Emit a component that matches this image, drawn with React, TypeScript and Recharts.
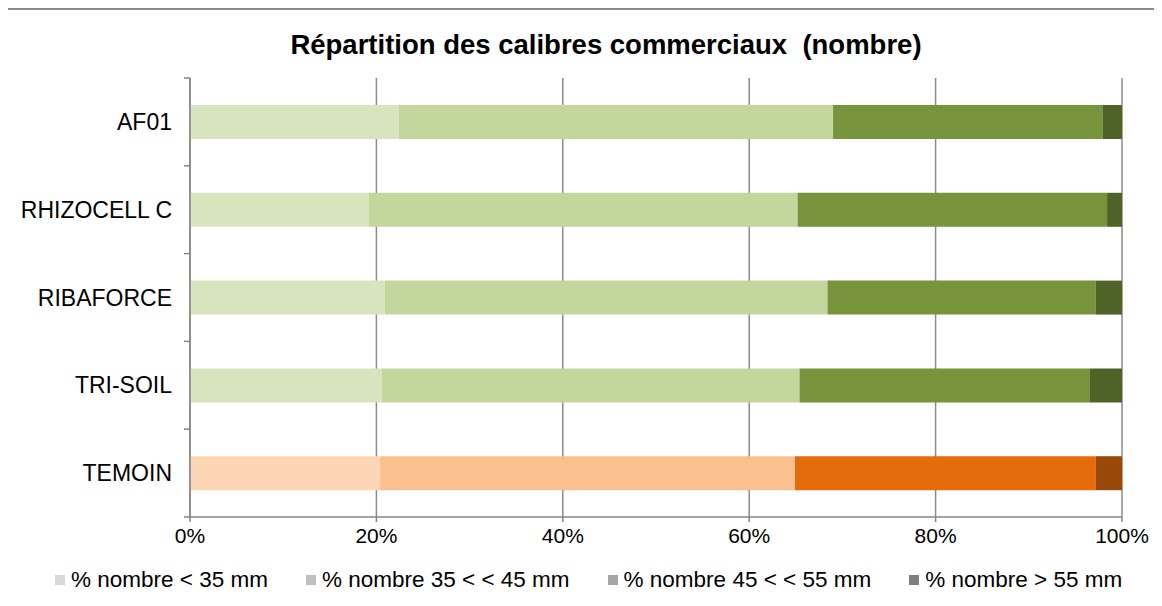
import React from 'react';
import { BarChart, Bar, XAxis, YAxis, CartesianGrid, Cell, Legend } from 'recharts';

const categories = ['AF01', 'RHIZOCELL C', 'RIBAFORCE', 'TRI-SOIL', 'TEMOIN'];
const lt35 = [22.4, 19.2, 20.9, 20.6, 20.4];
const from35to45 = [46.6, 46.0, 47.5, 44.8, 44.5];
const from45to55 = [28.9, 33.2, 28.8, 31.1, 32.3];
const gt55 = [2.1, 1.6, 2.8, 3.5, 2.8];
const seriesNames = ['% nombre < 35 mm', '% nombre 35 < < 45 mm', '% nombre 45 < < 55 mm', '% nombre > 55 mm'];
const seriesKeys = ['a', 'b', 'c', 'd'];
const xTicks = [0, 0.2, 0.4, 0.6, 0.8, 1];
const xTickLabels = ['0%', '20%', '40%', '60%', '80%', '100%'];
const controlCategory = 'TEMOIN';
const title = 'Répartition des calibres commerciaux  (nombre)';

const greenColors = ['#D7E4BD', '#C3D69B', '#77933C', '#4F6228'];
const orangeColors = ['#FCD5B5', '#FAC090', '#E46C0A', '#984807'];
const legendColors = ['#D9D9D9', '#BFBFBF', '#A6A6A6', '#7F7F7F'];

const FONT = '"Liberation Sans", Arial, sans-serif';
const AXIS = '#868686';

const data = categories.map((c, i) => ({
  name: c,
  a: lt35[i],
  b: from35to45[i],
  c: from45to55[i],
  d: gt55[i],
}));

const YTick = (props: any) => {
  const { x, y, payload, index } = props;
  const half = payload && payload.offset ? payload.offset : 44;
  const axisX = x + 18;
  return (
    <g>
      <text x={x} y={y} textAnchor="end" dominantBaseline="central" fill="#000" fontSize={23} fontFamily={FONT}>
        {payload.value}
      </text>
      <line x1={axisX - 6} x2={axisX} y1={y - half} y2={y - half} stroke={AXIS} strokeWidth={1.5} />
      {index === categories.length - 1 ? (
        <line x1={axisX - 6} x2={axisX} y1={y + half} y2={y + half} stroke={AXIS} strokeWidth={1.5} />
      ) : null}
    </g>
  );
};

const LegendContent = () => (
  <div style={{ display: 'flex', alignItems: 'center', height: 24, paddingLeft: 47, fontFamily: FONT, fontSize: 22.5, color: '#000' }}>
    {seriesNames.map((n, i) => (
      <div key={n} style={{ display: 'flex', alignItems: 'center', marginRight: 38, whiteSpace: 'nowrap' }}>
        <span style={{ display: 'inline-block', width: 10, height: 10, background: legendColors[i], marginRight: 6 }} />
        <span style={{ lineHeight: '24px' }}>{n}</span>
      </div>
    ))}
  </div>
);

export default function App() {
  return (
    <div style={{ position: 'relative', width: 1154, height: 590, background: '#fff' }}>
      <div style={{ position: 'absolute', left: -1, top: 0, right: 0, bottom: 0, borderTop: '2px solid #8a8a8a', borderLeft: '1px solid #8a8a8a', pointerEvents: 'none' }} />
      <div style={{ position: 'absolute', left: 0, top: 21, width: 1196, textAlign: 'center', fontFamily: FONT, fontWeight: 'bold', fontSize: 27.5, whiteSpace: 'pre', color: '#000', zIndex: 2 }}>
        {title}
      </div>
      <BarChart
        width={1154}
        height={590}
        data={data}
        layout="vertical"
        stackOffset="expand"
        margin={{ top: 70, right: 40, left: 0, bottom: 6 }}
      >
        <CartesianGrid horizontal={false} vertical={true} stroke="#8c8c8c" strokeWidth={1.5} />
        <XAxis
          type="number"
          domain={[0, 1]}
          ticks={xTicks}
          tickFormatter={(v: number) => xTickLabels[xTicks.indexOf(v)] ?? ''}
          tickSize={5}
          tickMargin={6}
          height={51}
          axisLine={{ stroke: AXIS, strokeWidth: 1.5 }}
          tickLine={{ stroke: AXIS, strokeWidth: 1.5 }}
          tick={{ fill: '#000', fontSize: 21, fontFamily: FONT }}
          interval={0}
        />
        <YAxis
          type="category"
          dataKey="name"
          width={182}
          tickLine={false}
          tickSize={0}
          tickMargin={18}
          axisLine={{ stroke: AXIS, strokeWidth: 1.5 }}
          tick={<YTick />}
          interval={0}
        />
        <Legend verticalAlign="bottom" align="left" content={<LegendContent />} wrapperStyle={{ left: 0, width: 1154 }} />
        {seriesKeys.map((k, si) => (
          <Bar key={k} dataKey={k} name={seriesNames[si]} stackId="s" barSize={34} isAnimationActive={false}>
            {data.map((d, i) => (
              <Cell key={i} fill={d.name === controlCategory ? orangeColors[si] : greenColors[si]} />
            ))}
          </Bar>
        ))}
      </BarChart>
    </div>
  );
}
